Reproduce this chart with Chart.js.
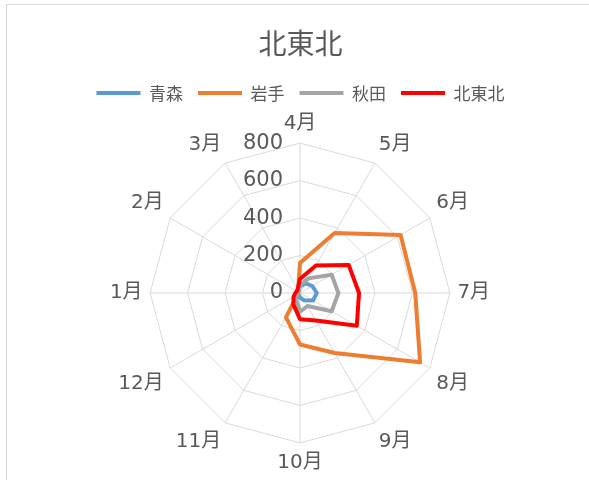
<!DOCTYPE html>
<html>
<head>
<meta charset="utf-8">
<script src="https://cdn.jsdelivr.net/npm/chart.js@4/dist/chart.umd.min.js"></script>
<style>
  html, body { margin: 0; padding: 0; background: #fff; }
  #wrap { position: relative; width: 589px; height: 480px; overflow: hidden; }
  #frame { position: absolute; left: 6px; top: 4px; width: 620px; height: 520px; border: 1px solid #d9d9d9; box-sizing: border-box; }
  #wrap canvas { position: absolute; left: 0; top: 0; }
</style>
</head>
<body>
<div id="wrap">
  <div id="frame"></div>
  <canvas id="radar"></canvas>
</div>
<script>
const months = ['4月', '5月', '6月', '7月', '8月', '9月', '10月', '11月', '12月', '1月', '2月', '3月'];
const aomori = [35, 60, 75, 90, 80, 45, 25, 15, 10, 10, 10, 15];
const iwate = [160, 370, 620, 615, 740, 370, 275, 150, 15, 10, 10, 20];
const akita = [40, 90, 195, 205, 195, 80, 100, 40, 20, 15, 15, 20];
const kitaTohoku = [75, 170, 300, 315, 350, 170, 140, 70, 40, 25, 20, 25];
const tickValues = [0, 200, 400, 600, 800];

const TEXT = '#595959';
const GRID = '#d9d9d9';
const CJK = '"Noto Sans CJK JP", sans-serif';
const MIXED = '"DejaVu Sans", "Noto Sans CJK JP", sans-serif';

function series(label, data, color, order) {
  return {
    label,
    data,
    borderColor: color,
    backgroundColor: color,
    borderWidth: 4,
    borderJoinStyle: 'round',
    borderCapStyle: 'round',
    fill: false,
    pointRadius: 0,
    pointHoverRadius: 0,
    tension: 0,
    order,
  };
}

// Excel puts the value labels left of the vertical axis, Chart.js centres them on it,
// so the real ticks are hidden and these are drawn from the scale instead
const tickLabelPlugin = {
  id: 'tickLabels',
  beforeDatasetsDraw(chart) {
    const s = chart.scales.r;
    const ctx = chart.ctx;
    ctx.save();
    ctx.font = '21px ' + MIXED;
    ctx.fillStyle = TEXT;
    ctx.textAlign = 'right';
    ctx.textBaseline = 'middle';
    tickValues.forEach((v) => {
      ctx.fillText(String(v), s.xCenter - 17, s.yCenter - s.getDistanceFromCenterForValue(v));
    });
    ctx.restore();
  },
};

new Chart(document.getElementById('radar'), {
  type: 'radar',
  data: {
    labels: months,
    datasets: [
      series('青森', aomori, '#5B9BD5', 4),
      series('岩手', iwate, '#ED7D31', 3),
      series('秋田', akita, '#A5A5A5', 2),
      series('北東北', kitaTohoku, '#FF0000', 1),
    ],
  },
  options: {
    responsive: true,
    maintainAspectRatio: false,
    animation: false,
    layout: { padding: { left: 12, right: 0, top: 0, bottom: 5.5 } },
    scales: {
      r: {
        min: 0,
        max: 800,
        beginAtZero: true,
        ticks: {
          stepSize: 200,
          display: true,
          color: 'rgba(0,0,0,0)',
          showLabelBackdrop: false,
          backdropPadding: 0,
          font: { size: 11 },
        },
        grid: { color: GRID, lineWidth: 1 },
        angleLines: { color: GRID, lineWidth: 1 },
        pointLabels: {
          color: TEXT,
          padding: 2,
          font: { family: MIXED, size: 20 },
        },
      },
    },
    plugins: {
      title: {
        display: true,
        text: '北東北',
        color: TEXT,
        font: { family: CJK, size: 28, weight: 'normal' },
        padding: { top: 27, bottom: 9 },
      },
      legend: {
        display: true,
        position: 'top',
        labels: {
          color: TEXT,
          font: { family: CJK, size: 17 },
          usePointStyle: true,
          pointStyle: 'line',
          pointStyleWidth: 44,
          padding: 15,
          sort: (a, b) => a.datasetIndex - b.datasetIndex,
        },
      },
      tooltip: { enabled: false },
    },
  },
  plugins: [tickLabelPlugin],
});
</script>
</body>
</html>
